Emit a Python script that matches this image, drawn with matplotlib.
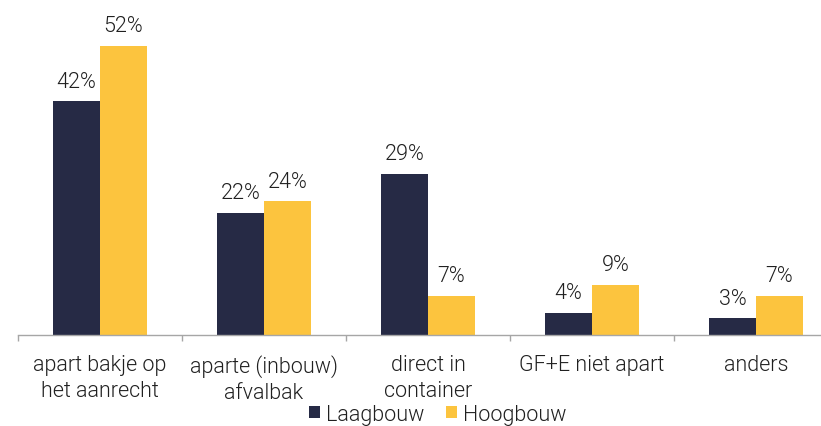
import matplotlib.pyplot as plt
import numpy as np

plt.rcParams['font.family'] = ['Roboto', 'DejaVu Sans']

categories = ['apart bakje op\nhet aanrecht', 'aparte (inbouw)\nafvalbak', 'direct in\ncontainer',
              'GF+E niet apart', 'anders']
laagbouw = [42, 22, 29, 4, 3]
hoogbouw = [52, 24, 7, 9, 7]
series_names = ['Laagbouw', 'Hoogbouw']
colors = ['#262a45', '#fcc43e']
text_color = '#202020'
fw = 300

fig = plt.figure(figsize=(8.21, 4.27), dpi=100)
ax = fig.add_axes([18 / 821, 91 / 427, 820 / 821, 336 / 427])

x = np.arange(len(categories))
w = 0.285
for vals, off, col, name in zip([laagbouw, hoogbouw], [-w / 2, w / 2], colors, series_names):
    bars = ax.bar(x + off, vals, width=w, color=col, label=name)
    for b, v in zip(bars, vals):
        ax.annotate(f'{v}%', (b.get_x() + b.get_width() / 2, v), xytext=(0, 7),
                    textcoords='offset points', ha='center', va='bottom',
                    fontsize=15.5, fontweight=fw, color=text_color)

ax.set_xlim(-0.5, len(categories) - 0.5)
ax.set_ylim(0, 60.4)
ax.set_yticks([])
for s in ['top', 'right', 'left']:
    ax.spines[s].set_visible(False)
ax.spines['bottom'].set_color('#a6a6a6')
ax.spines['bottom'].set_linewidth(1)

ax.set_xticks(x)
ax.set_xticklabels(categories, fontsize=15.5, fontweight=fw, color=text_color, linespacing=1.3)
ax.tick_params(axis='x', which='major', length=0, pad=14)
ax.set_xticks(np.arange(len(categories) + 1) - 0.5, minor=True)
ax.tick_params(axis='x', which='minor', length=4.5, color='#a6a6a6', width=1)

leg = fig.legend(loc='lower center', bbox_to_anchor=(438 / 821, -0.042), ncol=2, frameon=False,
                 fontsize=15.5, handlelength=0.5, handleheight=0.5, handletextpad=0.3,
                 columnspacing=1.0)
for t in leg.get_texts():
    t.set_fontweight(fw)
    t.set_color(text_color)

fig.savefig('out.png', dpi=100)
